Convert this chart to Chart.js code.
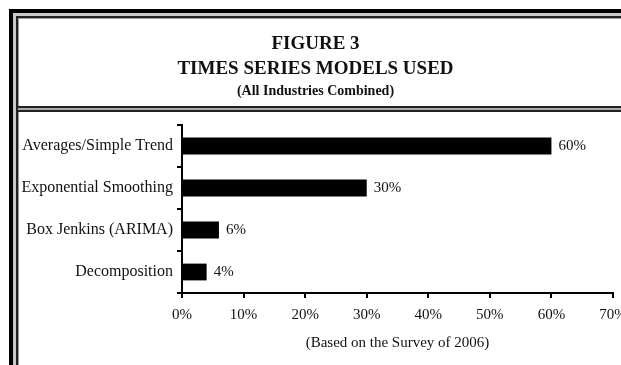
<!DOCTYPE html>
<html>
<head>
<meta charset="utf-8">
<script src="https://cdn.jsdelivr.net/npm/chart.js@4"></script>
<style>
  html, body { margin: 0; padding: 0; background: #fff; overflow: hidden; }
  canvas { display: block; }
</style>
</head>
<body>
<canvas id="chart" width="621" height="365"></canvas>
<script>
// Survey categories and share of respondents using each model (%)
const models = ['Averages/Simple Trend', 'Exponential Smoothing', 'Box Jenkins (ARIMA)', 'Decomposition'];
const usage = [60, 30, 6, 4];
const xTickValues = [0, 10, 20, 30, 40, 50, 60, 70];

const titleLines = ['FIGURE 3', 'TIMES SERIES MODELS USED'];
const subtitleText = '(All Industries Combined)';
const axisNote = '(Based on the Survey of 2006)';

const SERIF = "'Liberation Serif', 'Times New Roman', serif";

// Double-ruled frame around the figure and a double rule under the heading
const framePlugin = {
  id: 'frame',
  beforeDraw(chart) {
    const ctx = chart.ctx;
    const W = chart.width, H = chart.height;
    ctx.save();
    ctx.fillStyle = '#fff';
    ctx.fillRect(0, 0, W, H);
    // outer heavy rule
    ctx.fillStyle = '#000';
    ctx.fillRect(9, 9, W, 4);
    ctx.fillRect(9, 9, 4, H);
    // gap tone between rules
    ctx.fillStyle = '#c8c8c8';
    ctx.fillRect(13, 13, W, 3);
    ctx.fillRect(13, 13, 3, H);
    // inner light rule
    ctx.fillStyle = '#222';
    ctx.fillRect(16, 16, W, 2);
    ctx.fillRect(16, 16, 2, H);
    ctx.fillStyle = '#9a9a9a';
    ctx.fillRect(18, 18, W, 1);
    ctx.fillRect(18, 18, 1, H);
    // rule below the heading
    ctx.fillStyle = '#222';
    ctx.fillRect(18, 106, W, 2);
    ctx.fillRect(18, 110, W, 2);
    ctx.fillStyle = '#aaa';
    ctx.fillRect(18, 108, W, 2);
    ctx.restore();
  }
};

// Percentage printed just past the end of each bar
const valueLabels = {
  id: 'valueLabels',
  afterDatasetsDraw(chart) {
    const ctx = chart.ctx;
    const meta = chart.getDatasetMeta(0);
    ctx.save();
    ctx.font = '15px ' + SERIF;
    ctx.fillStyle = '#111';
    ctx.textAlign = 'left';
    ctx.textBaseline = 'middle';
    meta.data.forEach((bar, i) => {
      ctx.fillText(usage[i] + '%', bar.x + 7, bar.y);
    });
    ctx.restore();
  }
};

new Chart(document.getElementById('chart'), {
  type: 'bar',
  data: {
    labels: models,
    datasets: [{
      data: usage,
      backgroundColor: '#000',
      borderWidth: 0,
      barPercentage: 0.4,
      categoryPercentage: 1.0
    }]
  },
  options: {
    indexAxis: 'y',
    responsive: false,
    animation: false,
    events: [],
    layout: { padding: { left: 18, right: 8, top: 0, bottom: 0 } },
    plugins: {
      legend: { display: false },
      tooltip: { enabled: false },
      title: {
        display: true,
        text: titleLines,
        color: '#111',
        font: { family: SERIF, size: 19, weight: 'bold', lineHeight: 1.316 },
        padding: { top: 32, bottom: 0 }
      },
      subtitle: {
        display: true,
        text: subtitleText,
        color: '#111',
        font: { family: SERIF, size: 14, weight: 'bold', lineHeight: 1.143 },
        padding: { top: 1, bottom: 26 }
      }
    },
    scales: {
      x: {
        type: 'linear',
        min: 0,
        max: 70,
        afterBuildTicks(scale) {
          scale.ticks = xTickValues.map(v => ({ value: v }));
        },
        afterFit(scale) {
          scale.height = 72;
          scale.paddingRight = 0;
          scale.paddingLeft = 0;
        },
        grid: {
          drawOnChartArea: false,
          drawTicks: true,
          tickLength: 5,
          color: '#000',
          lineWidth: 2
        },
        border: { display: true, color: '#000', width: 2 },
        ticks: {
          callback: v => v + '%',
          color: '#111',
          padding: 8,
          maxRotation: 0,
          autoSkip: false,
          font: { family: SERIF, size: 15 }
        },
        title: {
          display: true,
          text: axisNote,
          color: '#111',
          font: { family: SERIF, size: 15, lineHeight: 1.2 },
          padding: { top: 0, bottom: 13 }
        }
      },
      y: {
        afterFit(scale) {
          scale.width = 164;
        },
        grid: {
          drawOnChartArea: false,
          drawTicks: true,
          tickLength: 5,
          offset: true,
          color: '#000',
          lineWidth: 2
        },
        border: { display: true, color: '#000', width: 2 },
        ticks: {
          color: '#111',
          padding: 4,
          autoSkip: false,
          font: { family: SERIF, size: 16 }
        }
      }
    }
  },
  plugins: [framePlugin, valueLabels]
});
</script>
</body>
</html>
